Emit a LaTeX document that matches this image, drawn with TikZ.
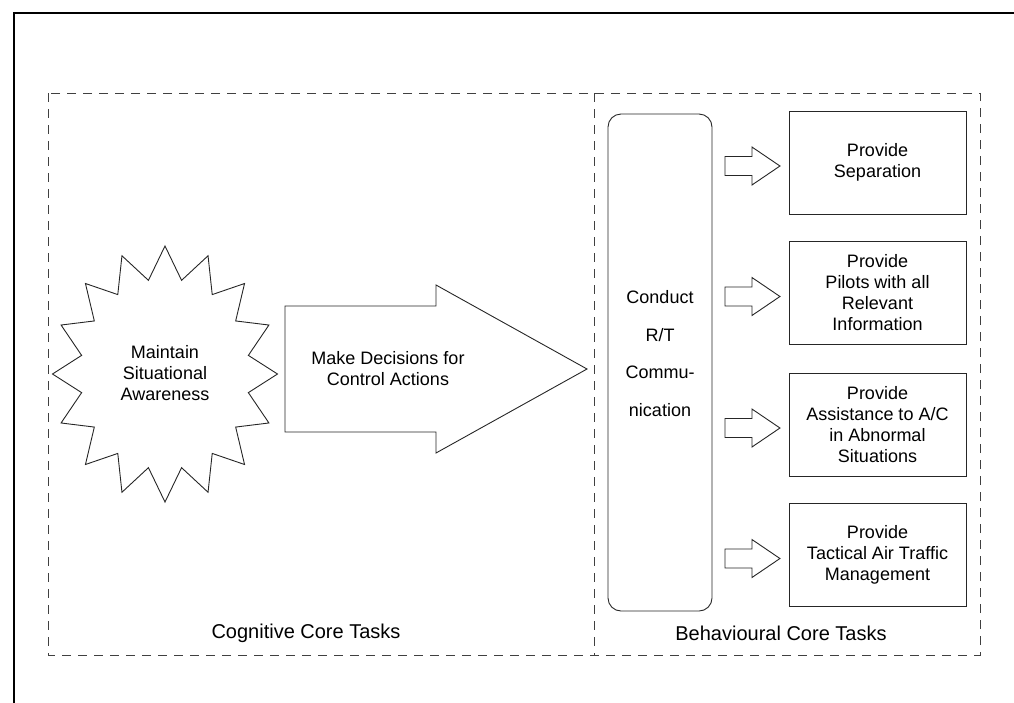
\documentclass[tikz,border=0pt]{standalone}
\usepackage{fontspec}
\setmainfont{Liberation Sans}
\usetikzlibrary{calc}
\begin{document}
\begin{tikzpicture}[x=1pt,y=-1pt,
  every node/.style={font=\fontsize{18}{21}\selectfont, align=center, inner sep=0pt},
  outline/.style={draw=black!85, line width=0.9pt, line join=miter},
  taskbox/.style={outline, minimum width=177pt, minimum height=103pt},
  panel/.style={draw=black!75, line width=0.9pt, dash pattern=on 9pt off 7pt},
  caption/.style={font=\fontsize{20}{24}\selectfont},
  frameline/.style={draw=black, line width=2pt},
  pics/blockarrow/.style={code={
    \draw[outline, fill=white] (0,-9.5) -- (27,-9.5) -- (27,-19) -- (55,0)
      -- (27,19) -- (27,9.5) -- (0,9.5) -- cycle;}}
]
\useasboundingbox (0,0) rectangle (1014,702);
\clip (0,0) rectangle (1014,702);

% outer frame (only its top and left edges fall on the page)
\draw[frameline] (14.3,13) rectangle (1040,730);

% the two task panels
\draw[panel] (48,93) rectangle (980,655);
\draw[panel] (594,93) -- (594,655);
\node[caption] (cog) at (306,633) {Cognitive Core Tasks};
\node[caption] (beh) at (781,633) {Behavioural Core Tasks};

% sixteen-point star
\draw[outline] plot[samples at={0,...,31}, variable=\k]
  ({165+ifthenelse(mod(\k,2)==0,112.5,85)*cos(90+11.25*\k)},
   {374+ifthenelse(mod(\k,2)==0,128,95.5)*sin(90+11.25*\k)}) -- cycle;
\node (msa) at (165,373.5) {Maintain\\Situational\\Awareness};

% large block arrow
\draw[outline] (285,306) -- (436,306) -- (436,285) -- (587,369)
  -- (436,453) -- (436,432) -- (285,432) -- cycle;
\node (mdc) at (388,369) {Make Decisions for\\Control Actions};

% R/T communication column
\node[outline, rounded corners=13pt, minimum width=104pt, minimum height=497pt] (rt) at (660,362.5) {};
\node (rtt) at (660,353.5) {Conduct\\[16.5pt]R/T\\[16.5pt]Commu-\\[16.5pt]nication};

% behavioural tasks
\node[taskbox] (b1) at (877.5,162.5) {Provide\\Separation};
\node[taskbox] (b2) at (877.5,293) {Provide\\Pilots with all\\Relevant\\Information};
\node[taskbox] (b3) at (877.5,424.5) {Provide\\Assistance to A/C\\in Abnormal\\Situations};
\node[taskbox] (b4) at (877.5,555) {Provide\\Tactical Air Traffic\\Management};

\foreach \b in {b1,b2,b3,b4}
  \pic at ($(rt.east |- \b.west)+(12.5,3.5)$) {blockarrow};
\end{tikzpicture}
\end{document}
